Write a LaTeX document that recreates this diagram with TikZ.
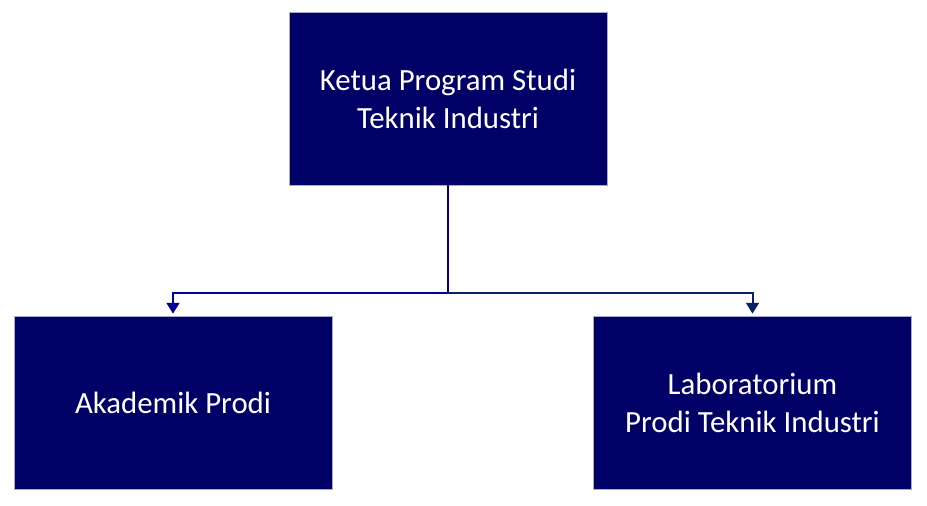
\documentclass[tikz,border=0pt]{standalone}
\usepackage{fontspec}
\setmainfont{Carlito}
\usetikzlibrary{arrows.meta}
\definecolor{boxnavy}{HTML}{000066}
\definecolor{boxedge}{HTML}{A8A8C8}
\definecolor{linkleft}{HTML}{000099}
\definecolor{linkright}{HTML}{0A2265}
\tikzset{
  unitbox/.style={draw=boxedge,line width=0.6pt,fill=boxnavy,text=white,
    minimum width=9.54cm,minimum height=5.19cm,align=center,
    font=\fontsize{26.3}{32.5}\selectfont},
  link/.style={line width=1.7pt,-{Triangle[width=0.38cm,length=0.32cm]},shorten >=0.06cm}
}
\begin{document}
\begin{tikzpicture}
      \useasboundingbox (0,0) rectangle (27.81,15.15);

      % kotak struktur
      \node[unitbox] (ketua) at (13.44,12.195) {Ketua Program Studi\\Teknik Industri};
      \node[unitbox] (akademik) at (5.19,3.075) {Akademik Prodi};
      \node[unitbox] (lab) at (22.575,3.075) {Laboratorium\\Prodi Teknik Industri};

      \coordinate (cabang) at ([yshift=-3.24cm]ketua.south);

      \draw[link,linkleft] (ketua.south) -- (cabang) -| (akademik.north);
      \draw[link,linkright] (cabang) -| (lab.north);
    \end{tikzpicture}
\end{document}
